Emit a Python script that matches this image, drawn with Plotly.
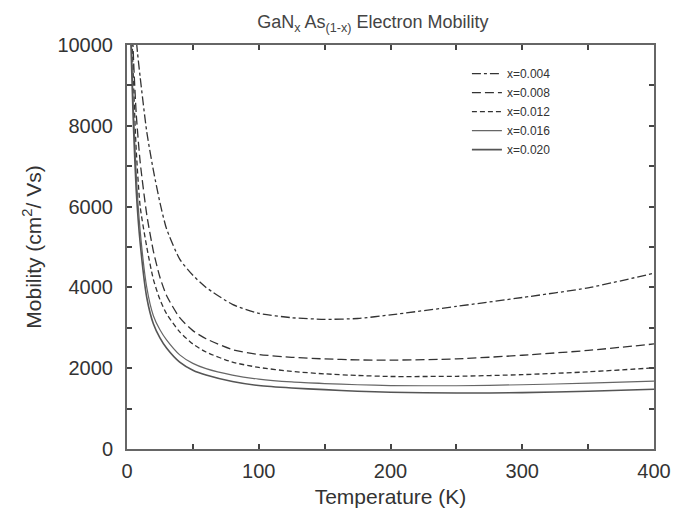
import plotly.graph_objects as go

T004 = [6, 8, 10, 15, 20, 25, 30, 40, 50, 60, 80, 100, 125, 150, 175, 200, 250, 300, 350, 400]
M004 = [10500, 9800, 9200, 7850, 6900, 6100, 5450, 4700, 4300, 4000, 3580, 3360, 3250, 3210, 3230, 3320, 3530, 3750, 3990, 4350]

T008 = [4, 5, 7, 10, 15, 20, 25, 30, 40, 50, 60, 80, 100, 125, 150, 175, 200, 250, 300, 350, 400]
M008 = [10500, 9600, 8300, 7100, 5800, 4900, 4250, 3800, 3250, 2930, 2730, 2460, 2340, 2270, 2230, 2205, 2200, 2230, 2320, 2440, 2600]

T012 = [3.5, 5, 7, 10, 15, 20, 25, 30, 40, 50, 60, 80, 100, 125, 150, 175, 200, 250, 300, 350, 400]
M012 = [10500, 9000, 7400, 6000, 5000, 4200, 3700, 3350, 2900, 2600, 2400, 2150, 2020, 1920, 1860, 1820, 1795, 1800, 1840, 1910, 2010]

T016 = [3, 4, 5, 7, 10, 15, 20, 25, 30, 40, 50, 60, 80, 100, 125, 150, 175, 200, 250, 300, 350, 400]
M016 = [10500, 9300, 8300, 6800, 5400, 4000, 3300, 2950, 2700, 2330, 2120, 1990, 1830, 1730, 1660, 1620, 1590, 1570, 1565, 1590, 1630, 1680]

T020 = [3, 4, 5, 7, 10, 15, 20, 25, 30, 40, 50, 60, 80, 100, 125, 150, 175, 200, 250, 300, 350, 400]
M020 = [10000, 8900, 7900, 6400, 5100, 3750, 3100, 2750, 2500, 2150, 1950, 1830, 1670, 1570, 1510, 1470, 1430, 1405, 1385, 1395, 1430, 1480]

LABELS = ["x=0.004", "x=0.008", "x=0.012", "x=0.016", "x=0.020"]

X_TICKS = [0, 100, 200, 300, 400]
X_MINOR = [50, 150, 250, 350]
Y_TICKS = [0, 2000, 4000, 6000, 8000, 10000]
Y_TICKTEXT = ["0", "2000", "4000", "6000", "8000", "10000"]
Y_MINOR = [1000, 3000, 5000, 7000, 9000]

series = [
    (T004, M004, LABELS[0], "dashdot", "#333333", 1.3),
    (T008, M008, LABELS[1], "9px,4px", "#333333", 1.3),
    (T012, M012, LABELS[2], "5px,3px", "#333333", 1.3),
    (T016, M016, LABELS[3], "solid", "#666666", 1.2),
    (T020, M020, LABELS[4], "solid", "#555555", 1.6),
]

fig = go.Figure()
for t, m, name, dash, color, w in series:
    fig.add_trace(go.Scatter(
        x=t, y=m, name=name, mode="lines",
        line=dict(color=color, width=w, dash=dash, shape="spline", smoothing=0.6),
    ))

FONT = "Liberation Sans, Arial, sans-serif"
axis_common = dict(
    showline=True, linecolor="#666666", linewidth=2, mirror="allticks",
    ticks="inside", ticklen=5, tickcolor="#444444", tickwidth=1.5,
    showgrid=False, zeroline=False,
    tickfont=dict(family=FONT, size=20, color="#333333"),
)

fig.update_layout(
    width=683, height=517,
    margin=dict(l=127, r=23, t=45, b=66),
    paper_bgcolor="white", plot_bgcolor="white",
    title=dict(
        text="GaN<sub>x</sub> As<sub>(1-x)</sub> Electron Mobility",
        x=0.546, xanchor="center", y=0.958, yanchor="middle",
        font=dict(family=FONT, size=18, color="#444444"),
    ),
    showlegend=True,
    legend=dict(
        x=0.645, y=0.965, xanchor="left", yanchor="top",
        bgcolor="rgba(0,0,0,0)", itemwidth=30,
        font=dict(family=FONT, size=12, color="#333333"),
        tracegroupgap=0,
    ),
    xaxis=dict(
        range=[0, 400], tickvals=X_TICKS,
        minor=dict(tickvals=X_MINOR, ticks="inside", ticklen=5, tickcolor="#444444"),
        ticklabelstandoff=3,
        title=dict(text="Temperature (K)", font=dict(family=FONT, size=21, color="#333333"), standoff=8),
        **axis_common,
    ),
    yaxis=dict(
        range=[0, 10000], tickvals=Y_TICKS, ticktext=Y_TICKTEXT,
        minor=dict(tickvals=Y_MINOR, ticks="inside", ticklen=5, tickcolor="#444444"),
        ticklabelstandoff=8,
        title=dict(text="Mobility (cm<sup>2</sup>/ Vs)", font=dict(family=FONT, size=21, color="#333333"), standoff=10),
        **axis_common,
    ),
)

fig.write_html("out.html")
